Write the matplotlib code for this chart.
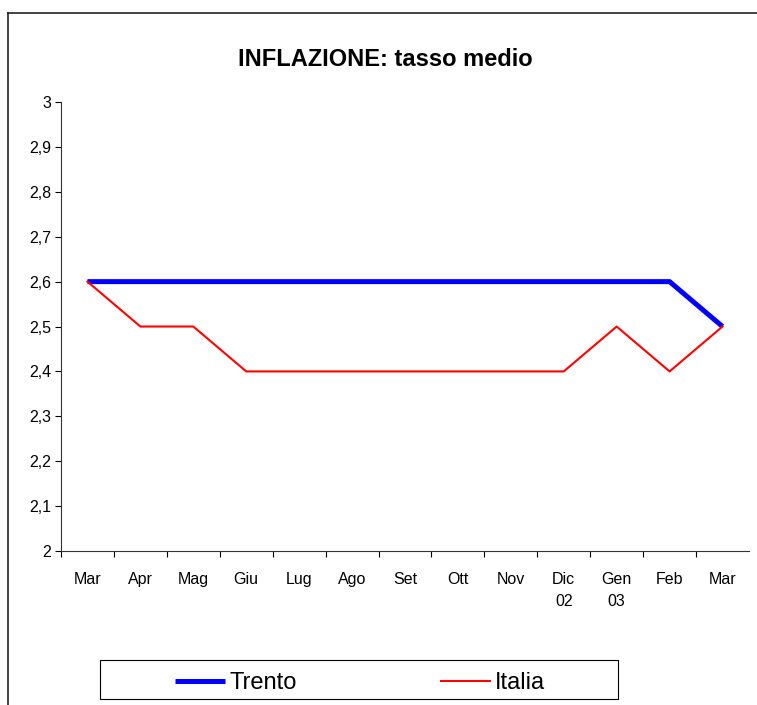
import matplotlib.pyplot as plt
from matplotlib.lines import Line2D
from matplotlib.patches import Rectangle

plt.rcParams['font.family'] = ['Liberation Sans', 'DejaVu Sans']

# Data
months = ['Mar', 'Apr', 'Mag', 'Giu', 'Lug', 'Ago', 'Set', 'Ott', 'Nov',
          'Dic\n02', 'Gen\n03', 'Feb', 'Mar']
trento = [2.6, 2.6, 2.6, 2.6, 2.6, 2.6, 2.6, 2.6, 2.6, 2.6, 2.6, 2.6, 2.5]
italia = [2.6, 2.5, 2.5, 2.4, 2.4, 2.4, 2.4, 2.4, 2.4, 2.4, 2.5, 2.4, 2.5]
yticks = [2.0, 2.1, 2.2, 2.3, 2.4, 2.5, 2.6, 2.7, 2.8, 2.9, 3.0]
ylabels = ['2', '2,1', '2,2', '2,3', '2,4', '2,5', '2,6', '2,7', '2,8', '2,9', '3']

fig = plt.figure(figsize=(7.57, 7.05), dpi=100)
ax = fig.add_axes([0.0806, 0.2184, 0.9088, 0.6369])

x = list(range(len(months)))
ax.plot(x, trento, color='#0000ff', lw=3.6, label='Trento', solid_capstyle='butt')
ax.plot(x, italia, color='#ff0000', lw=1.5, label='Italia')

ax.set_xlim(-0.5, len(months) - 0.5)
ax.set_ylim(2, 3)
ax.set_yticks(yticks)
ax.set_yticklabels(ylabels, fontsize=11.5)
ax.set_xticks(x)
ax.set_xticklabels(months, fontsize=11.5, linespacing=1.6, va='top')
ax.set_xticks([i - 0.5 for i in x], minor=True)
ax.tick_params(axis='x', which='major', length=0, pad=15)
ax.tick_params(axis='x', which='minor', length=4, direction='out', width=0.8)
ax.tick_params(axis='y', length=4, direction='out', width=0.8, pad=3)

for s in ['top', 'right']:
    ax.spines[s].set_visible(False)
for s in ['left', 'bottom']:
    ax.spines[s].set_linewidth(0.8)
    ax.spines[s].set_color('#333333')

fig.text(0.509, 0.915, 'INFLAZIONE: tasso medio', ha='center', va='center',
         fontsize=17, fontweight='bold')

# outer chart border (partially cut off)
fig.add_artist(Line2D([0.0106, 0.0106], [0.0, 0.9816], color='#222222', lw=1.2))
fig.add_artist(Line2D([0.0106, 1.0], [0.9816, 0.9816], color='#222222', lw=1.2))

# legend box
fig.add_artist(Rectangle((0.1321, 0.0085), 0.6843, 0.0553, transform=fig.transFigure,
                         fill=False, edgecolor='black', lw=0.8))
fig.legend(loc='center', bbox_to_anchor=(0.4756, 0.031), ncol=2, fontsize=17,
           frameon=False, handlelength=2.1, handletextpad=0.2, columnspacing=6.1,
           borderpad=0, borderaxespad=0)

fig.savefig('out.png', dpi=100)
